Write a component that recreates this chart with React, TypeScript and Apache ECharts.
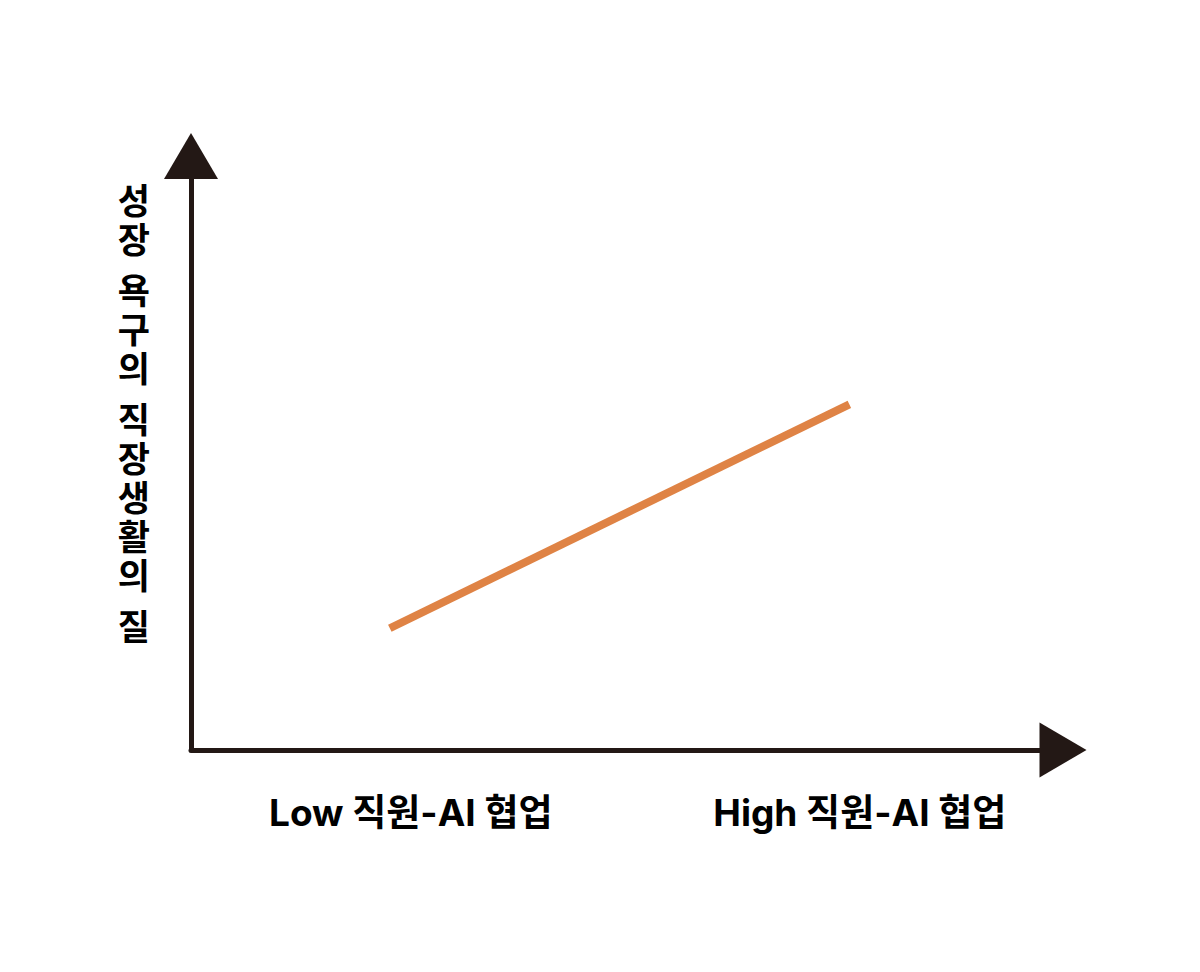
import { useEffect, useRef } from 'react'
import * as echarts from 'echarts'

// conceptual chart: collaboration level (x) vs quality of work life (y)
const xRange = [0, 10]
const yRange = [0, 10]
const lineX = [2.28, 7.55]
const lineY = [2.05, 5.82]
const xLabelValues = [2.52, 7.67]
const xLabels = ['Low 직원-AI 협업', 'High 직원-AI 협업']
const yTitle = '성장 욕구의 직장생활의 질'

const INK = '#231815'
const ORANGE = '#DF8345'
const FONT = "Inter, 'Noto Sans CJK KR', sans-serif"

// stack the title one glyph per line, spaces become a short gap
const verticalTitle = yTitle
  .split('')
  .map((ch) => (ch === ' ' ? '{g| }' : `{c|${ch}}`))
  .join('\n')

export default function App() {
  const ref = useRef<HTMLDivElement | null>(null)

  useEffect(() => {
    if (!ref.current) return
    const chart = echarts.init(ref.current, undefined, { renderer: 'svg' })
    chart.setOption({
      animation: false,
      backgroundColor: '#ffffff',
      grid: { left: 191, right: 137, top: 156, bottom: 222, containLabel: false },
      xAxis: {
        type: 'value',
        min: xRange[0],
        max: xRange[1],
        splitLine: { show: false },
        axisTick: { show: false },
        axisLine: {
          show: true,
          symbol: ['none', 'triangle'],
          symbolSize: [55, 47],
          lineStyle: { color: INK, width: 5 },
        },
        axisLabel: {
          customValues: xLabelValues,
          formatter: (v: number) => {
            const i = xLabelValues.findIndex((x) => Math.abs(x - v) < 1e-6)
            return i >= 0 ? xLabels[i] : ''
          },
          margin: 44,
          color: '#000',
          fontFamily: FONT,
          fontWeight: 'bold',
          fontSize: 37,
        },
      },
      yAxis: {
        type: 'value',
        min: yRange[0],
        max: yRange[1],
        splitLine: { show: false },
        axisTick: { show: false },
        axisLabel: { show: false },
        axisLine: {
          show: true,
          symbol: ['none', 'triangle'],
          symbolSize: [54, 46],
          lineStyle: { color: INK, width: 5 },
        },
        name: verticalTitle,
        nameLocation: 'middle',
        nameRotate: 0,
        nameGap: 41,
        nameTextStyle: {
          padding: [0, 0, 78, 0],
          rich: {
            c: { fontFamily: FONT, fontWeight: 'bold', fontSize: 35, lineHeight: 39, color: '#000' },
            g: { fontSize: 8, lineHeight: 12 },
          },
        },
      },
      series: [
        {
          type: 'line',
          data: lineX.map((x, i) => [x, lineY[i]]),
          showSymbol: false,
          lineStyle: { color: ORANGE, width: 8, cap: 'butt' },
        },
      ],
    })
    return () => chart.dispose()
  }, [])

  return (
    <div
      ref={ref}
      style={{ position: 'fixed', left: 0, top: 0, width: 1200, height: 972, background: '#fff' }}
    />
  )
}
